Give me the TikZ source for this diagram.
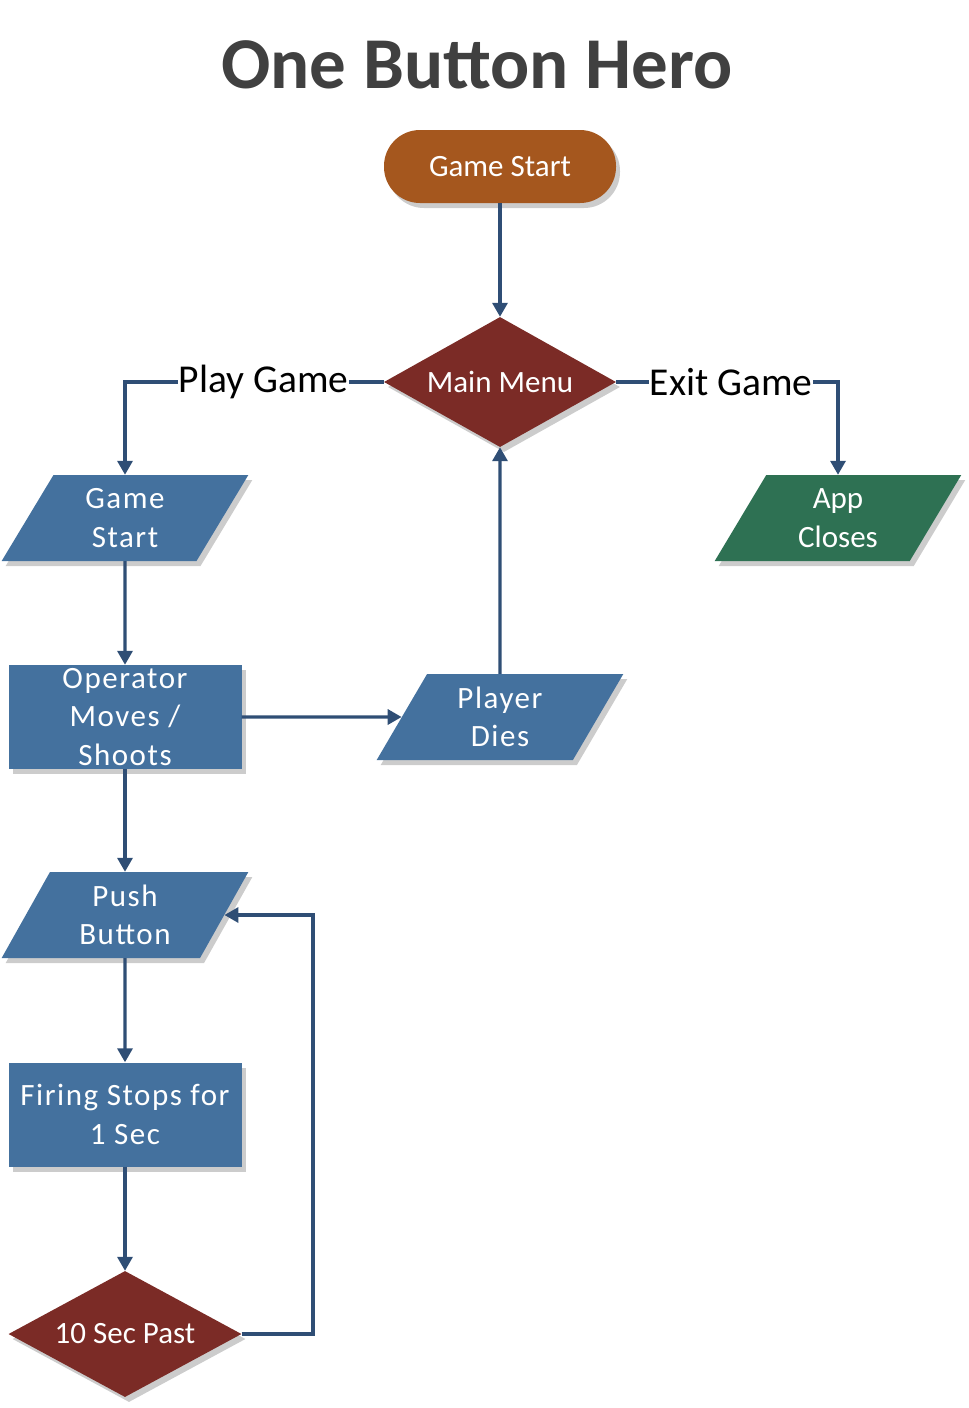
\documentclass[tikz,border=0pt]{standalone}
\usepackage{fontspec}
\setmainfont{Carlito}
\usetikzlibrary{shapes.geometric,arrows.meta,shadows}
\definecolor{brownc}{HTML}{A5571E}
\definecolor{redc}{HTML}{7B2B26}
\definecolor{bluec}{HTML}{44719E}
\definecolor{greenc}{HTML}{2E7153}
\definecolor{arrowc}{HTML}{2F4E75}
\definecolor{titlec}{HTML}{404040}
\tikzset{
  shape base/.style={text=white, align=center, inner sep=0pt,
    font=\fontsize{31}{38.5}\selectfont,
    drop shadow={shadow xshift=4pt, shadow yshift=-5pt, fill=black!20, opacity=1}},
  termbox/.style={shape base, rectangle, rounded corners=36pt, fill=brownc,
    minimum width=232pt, minimum height=73pt},
  decbox/.style={shape base, diamond, aspect=1.78, fill=redc, minimum width=232pt, minimum height=130pt},
  iobox/.style={shape base, trapezium, trapezium left angle=64, trapezium right angle=116,
    trapezium stretches=true, minimum width=247pt, minimum height=86pt, fill=bluec,
    font=\fontsize{31}{38.5}\selectfont\addfontfeature{LetterSpace=5}},
  procbox/.style={shape base, rectangle, fill=bluec, minimum width=233pt, minimum height=104pt,
    font=\fontsize{31}{38.5}\selectfont\addfontfeature{LetterSpace=5}},
  arr/.style={draw=arrowc, line width=3.3pt, -{Triangle[length=14pt,width=15pt]}},
  lab/.style={fill=white, text=black, inner sep=1pt, font=\fontsize{39.5}{44}\selectfont}
}
\begin{document}
\begin{tikzpicture}[x=1pt,y=-1pt]
\useasboundingbox (0,0) rectangle (969,1408);
\node[text=titlec, font=\fontsize{73}{80}\selectfont\bfseries] (title) at (477,65) {One Button Hero};
\node[termbox] (start) at (500,166.5) {Game Start};
\node[decbox] (menu) at (500,382) {Main Menu};
\node[iobox] (gs) at (125,518) {Game\\Start};
\node[iobox, fill=greenc, font=\fontsize{31}{38.5}\selectfont] (app) at (838,518) {App\\Closes};
\node[procbox] (op) at (125,717) {Operator\\Moves /\\Shoots};
\node[iobox] (pd) at (500,717) {Player\\Dies};
\node[iobox] (pb) at (125,915) {Push\\Button};
\node[procbox] (fs) at (125,1114.5) {Firing Stops for\\1 Sec};
\node[decbox, aspect=1.85, minimum width=233pt, minimum height=126pt] (ten) at (125,1334) {10 Sec Past};
\coordinate (loopx) at (313,0);

\draw[arr] (start) -- (menu);
\draw[arr] (menu.west) -| node[lab, pos=0.232] {Play Game} (gs.north);
\draw[arr] (menu.east) -| node[lab, pos=0.259] {Exit Game} (app.north);
\draw[arr] (gs) -- (op);
\draw[arr] (op) -- (pd);
\draw[arr] (pd) -- (menu);
\draw[arr] (op) -- (pb);
\draw[arr] (pb) -- (fs);
\draw[arr] (fs) -- (ten);
\draw[arr] (ten.east) -- (ten.east -| loopx) |- (pb);
\end{tikzpicture}
\end{document}
